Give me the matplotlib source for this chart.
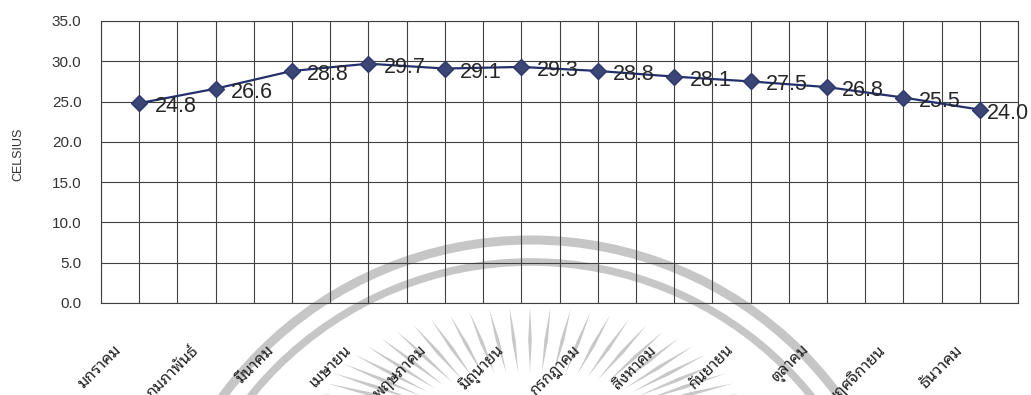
import matplotlib
matplotlib.use("Agg")
import numpy as np
import matplotlib.pyplot as plt
from matplotlib.patches import Arc, Polygon
from matplotlib.transforms import ScaledTranslation, blended_transform_factory

# Monthly mean temperature (°C)
months = ["มกราคม", "กุมภาพันธ์", "มีนาคม", "เมษายน", "พฤษภาคม", "มิถุนายน",
          "กรกฎาคม", "สิงหาคม", "กันยายน", "ตุลาคม", "พฤศจิกายน", "ธันวาคม"]
temps = [24.8, 26.6, 28.8, 29.7, 29.1, 29.3, 28.8, 28.1, 27.5, 26.8, 25.5, 24.0]
y_ticks = [0, 5, 10, 15, 20, 25, 30, 35]
y_label = "CELSIUS"

NUM_FONT = ["Liberation Sans", "DejaVu Sans"]
THAI_FONT = ["Noto Sans Thai Looped", "Noto Sans Thai", "Loma", "DejaVu Sans"]
GRID = "#404040"

W, H = 1031, 395
fig = plt.figure(figsize=(W / 100, H / 100), dpi=100)
fig.patch.set_facecolor("white")

# faint seal watermark behind the chart (pixel coordinates, y downwards)
bg = fig.add_axes([0, 0, 1, 1], zorder=0)
bg.set_xlim(0, W)
bg.set_ylim(H, 0)
bg.axis("off")
seal = "#c6c6c6"
bg.add_patch(Arc((531, 622), 2 * 382, 2 * 382, theta1=180, theta2=360,
                 color=seal, lw=6.5))
bg.add_patch(Arc((531, 622), 2 * 360, 2 * 360, theta1=180, theta2=360,
                 color=seal, lw=5.5))
cx, cy = 530, 420
for ang in np.linspace(8, 172, 31):
    t = np.radians(ang)
    ux, uy = np.cos(t), -np.sin(t)
    p_in = np.array([cx + 125 * ux, cy + 48 * uy])
    p_out = np.array([cx + 215 * ux, cy + 113 * uy])
    d = p_out - p_in
    n = np.array([-d[1], d[0]]) / np.hypot(*d)
    mid = p_in + 0.5 * d
    poly = [p_in, mid + 1.8 * n, p_out, mid - 1.8 * n]
    bg.add_patch(Polygon(poly, closed=True, fc="#c8c8c8", ec="none"))

# main chart
left, right, top, bottom = 101, 1018, 21, 303
ax = fig.add_axes([left / W, 1 - bottom / H, (right - left) / W, (bottom - top) / H],
                  zorder=1)
ax.set_facecolor("none")

x = np.arange(len(months))
ax.plot(x, temps, color="#24306b", lw=1.6, marker="D", markersize=8,
        markerfacecolor="#3b4677", markeredgecolor="#2c376b", zorder=3,
        clip_on=False)

# value labels; the last one sits a little closer so it stays inside the figure
last = len(temps) - 1
for xi, v in zip(x, temps):
    dx = 5 if xi == last else 11
    ax.annotate(f"{v:.1f}", (xi, v), xytext=(dx, -2.5), textcoords="offset points",
                ha="left", va="center", fontsize=15.5, family=NUM_FONT,
                color="#262626", zorder=4, annotation_clip=False)

ax.set_xlim(-0.5, len(months) - 0.5)
ax.set_ylim(y_ticks[0], y_ticks[-1])
ax.set_yticks(y_ticks)
ax.set_yticklabels([f"{t:.1f}" for t in y_ticks], family=NUM_FONT, fontsize=11,
                   color="#333333")
ax.tick_params(axis="y", length=0, pad=14)
ax.set_xticks(x)
ax.set_xticks(np.arange(-0.5, len(months), 1.0), minor=True)
ax.tick_params(axis="x", which="both", length=0, labelbottom=False)
ax.grid(True, which="both", axis="x", color=GRID, lw=0.8)
ax.grid(True, which="major", axis="y", color=GRID, lw=0.8)
ax.set_axisbelow(True)
for s in ax.spines.values():
    s.set_color(GRID)
    s.set_linewidth(0.8)

# rotated month labels below the axis
trans = blended_transform_factory(ax.transData, ax.transAxes) + \
    ScaledTranslation(-0.20, -0.45, fig.dpi_scale_trans)
for xi, name in zip(x, months):
    ax.text(xi, 0, name, transform=trans, rotation=45, rotation_mode="anchor",
            ha="right", va="center", fontsize=11.5, family=THAI_FONT,
            color="#1e1e1e", clip_on=False)

fig.text(18 / W, 1 - 154 / H, y_label, rotation=90, ha="center", va="center",
         fontsize=9, family=NUM_FONT, color="#333333")

fig.savefig("out.png", dpi=100, facecolor="white")
